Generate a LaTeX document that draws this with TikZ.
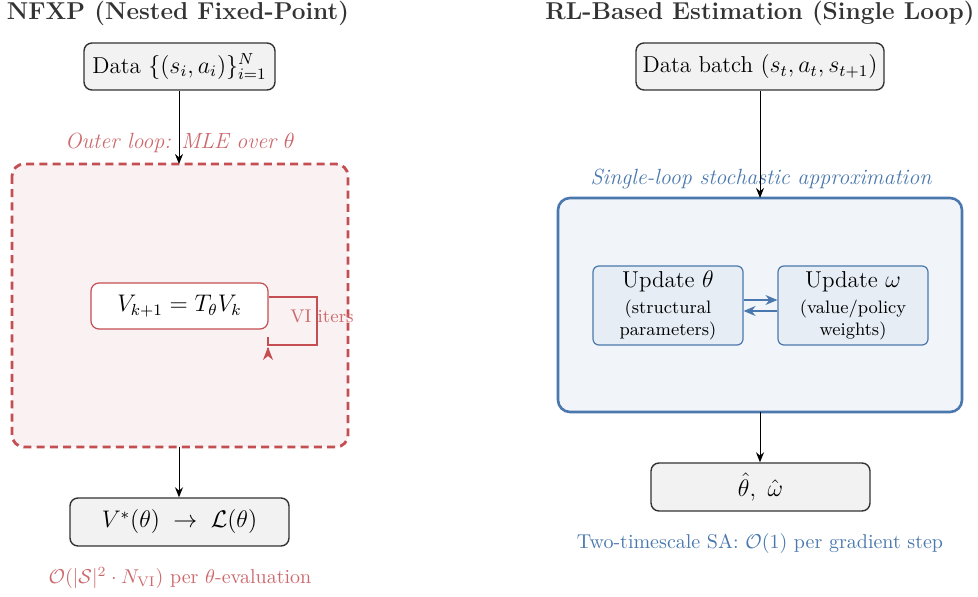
\documentclass[tikz,border=0pt]{standalone}
\usepackage{amsmath,amssymb}
\usetikzlibrary{arrows.meta}
\definecolor{cred}{HTML}{C44E52}
\definecolor{cblue}{HTML}{4A78AE}
\definecolor{cdark}{HTML}{333333}
\definecolor{cgray}{HTML}{F2F2F2}
\definecolor{cpink}{HTML}{F9F1F2}
\definecolor{cbluebg}{HTML}{F1F4F8}
\definecolor{cbluebox}{HTML}{E6EDF5}
\tikzset{
  graybox/.style={draw=cdark, fill=cgray, line width=0.7pt, rounded corners=4pt, inner sep=0pt, font=\fontsize{11.5}{13}\selectfont},
  updbox/.style={draw=cblue, fill=cbluebox, line width=0.6pt, rounded corners=3pt, inner sep=0pt, align=center},
  arr/.style={-{Stealth[length=5pt,width=4pt]}, line width=0.5pt, black},
  titletext/.style={font=\fontsize{12.2}{14}\selectfont\bfseries, text=cdark},
}
\begin{document}
\begin{tikzpicture}[x=0.5pt,y=-0.5pt]
\useasboundingbox (0,0) rectangle (978,597);
% titles
\node[titletext] (t1) at (178,13) {NFXP (Nested Fixed-Point)};
\node[titletext] (t2) at (760,13) {RL-Based Estimation (Single Loop)};
% left
\node[graybox, minimum width=95.5pt, minimum height=23.5pt] (d1) at (179.5,66.5) {Data $\{(s_i,a_i)\}_{i=1}^{N}$};
\draw[cred, dashed, dash pattern=on 4pt off 2.6pt, line width=1.4pt, fill=cpink, rounded corners=6pt] (12,164) rectangle (348,447);
\coordinate (otop) at (179,164);
\coordinate (obot) at (179,447);
\node[font=\fontsize{11}{13}\selectfont\itshape, text=cred!85] (ol) at (180,143) {Outer loop: MLE over $\theta$};
\draw[arr] (d1.south -| otop) -- (otop);
\node[draw=cred, fill=white, line width=0.6pt, rounded corners=4pt, minimum width=88.5pt, minimum height=23pt, inner sep=0pt, font=\fontsize{11.5}{13}\selectfont] (vi) at (179.5,306) {$V_{k+1} = T_\theta V_k$};
\coordinate (c1) at (317,297);
\coordinate (c2) at (317,345);
\coordinate (c3) at (268,345);
\coordinate (c4) at (268,337);
\coordinate (h1) at (268,360);
\coordinate (h2) at (268,347);
\draw[cred, line width=0.6pt] (vi.east |- c1) -- (c1) -- (c2) -- (c3) -- (c4);
\draw[cred, -{Stealth[length=6.5pt,width=5pt,inset=2pt]}, line width=0.6pt, shorten <=6pt] (h1) -- (h2);
\node[font=\fontsize{9.2}{11}\selectfont, text=cred!85] (vil) at (322,316) {VI iters};
\node[graybox, minimum width=109.5pt, minimum height=24pt] (res1) at (179.5,522) {$V^*(\theta)\;\to\;\mathcal{L}(\theta)$};
\draw[arr] (obot) -- (obot |- res1.north);
\node[font=\fontsize{10}{12}\selectfont, text=cred!85] (cx1) at (180,578) {$\mathcal{O}(|\mathcal{S}|^2\cdot N_{\mathrm{VI}})$ per $\theta$-evaluation};
% right
\node[graybox, minimum width=124pt, minimum height=23.5pt] (d2) at (760,66.5) {Data batch $(s_t,a_t,s_{t+1})$};
\draw[cblue, line width=1.3pt, fill=cbluebg, rounded corners=6pt] (558,198) rectangle (962,412);
\coordinate (btop) at (760,198);
\coordinate (bbot) at (760,412);
\node[font=\fontsize{11}{13}\selectfont\itshape, text=cblue] (sl) at (761,179) {Single-loop stochastic approximation};
\draw[arr] (d2.south) -- (btop);
\node[updbox, minimum width=75pt, minimum height=39.5pt] (ut) at (668,305.5) {{\fontsize{11.5}{13}\selectfont Update $\theta$}\\[1pt]{\fontsize{9}{10.5}\selectfont (structural}\\[-1pt]{\fontsize{9}{10.5}\selectfont parameters)}};
\node[updbox, minimum width=75pt, minimum height=39.5pt] (uw) at (853,305.5) {{\fontsize{11.5}{13}\selectfont Update $\omega$}\\[1pt]{\fontsize{9}{10.5}\selectfont (value/policy}\\[-1pt]{\fontsize{9}{10.5}\selectfont weights)}};
\coordinate (a1) at (0,300);
\coordinate (a2) at (0,311);
\draw[cblue, line width=0.7pt, -{Stealth[length=6pt,width=5pt,inset=2pt]}] (ut.east |- a1) -- (uw.west |- a1);
\draw[cblue, line width=0.7pt, -{Stealth[length=6pt,width=5pt,inset=2pt]}] (uw.west |- a2) -- (ut.east |- a2);
\node[graybox, minimum width=109.5pt, minimum height=24pt] (res2) at (760.5,487) {$\hat{\theta},\ \hat{\omega}$};
\draw[arr] (bbot) -- (bbot |- res2.north);
\node[font=\fontsize{10}{12}\selectfont, text=cblue] (cx2) at (760,543) {Two-timescale SA: $\mathcal{O}(1)$ per gradient step};
\end{tikzpicture}
\end{document}
